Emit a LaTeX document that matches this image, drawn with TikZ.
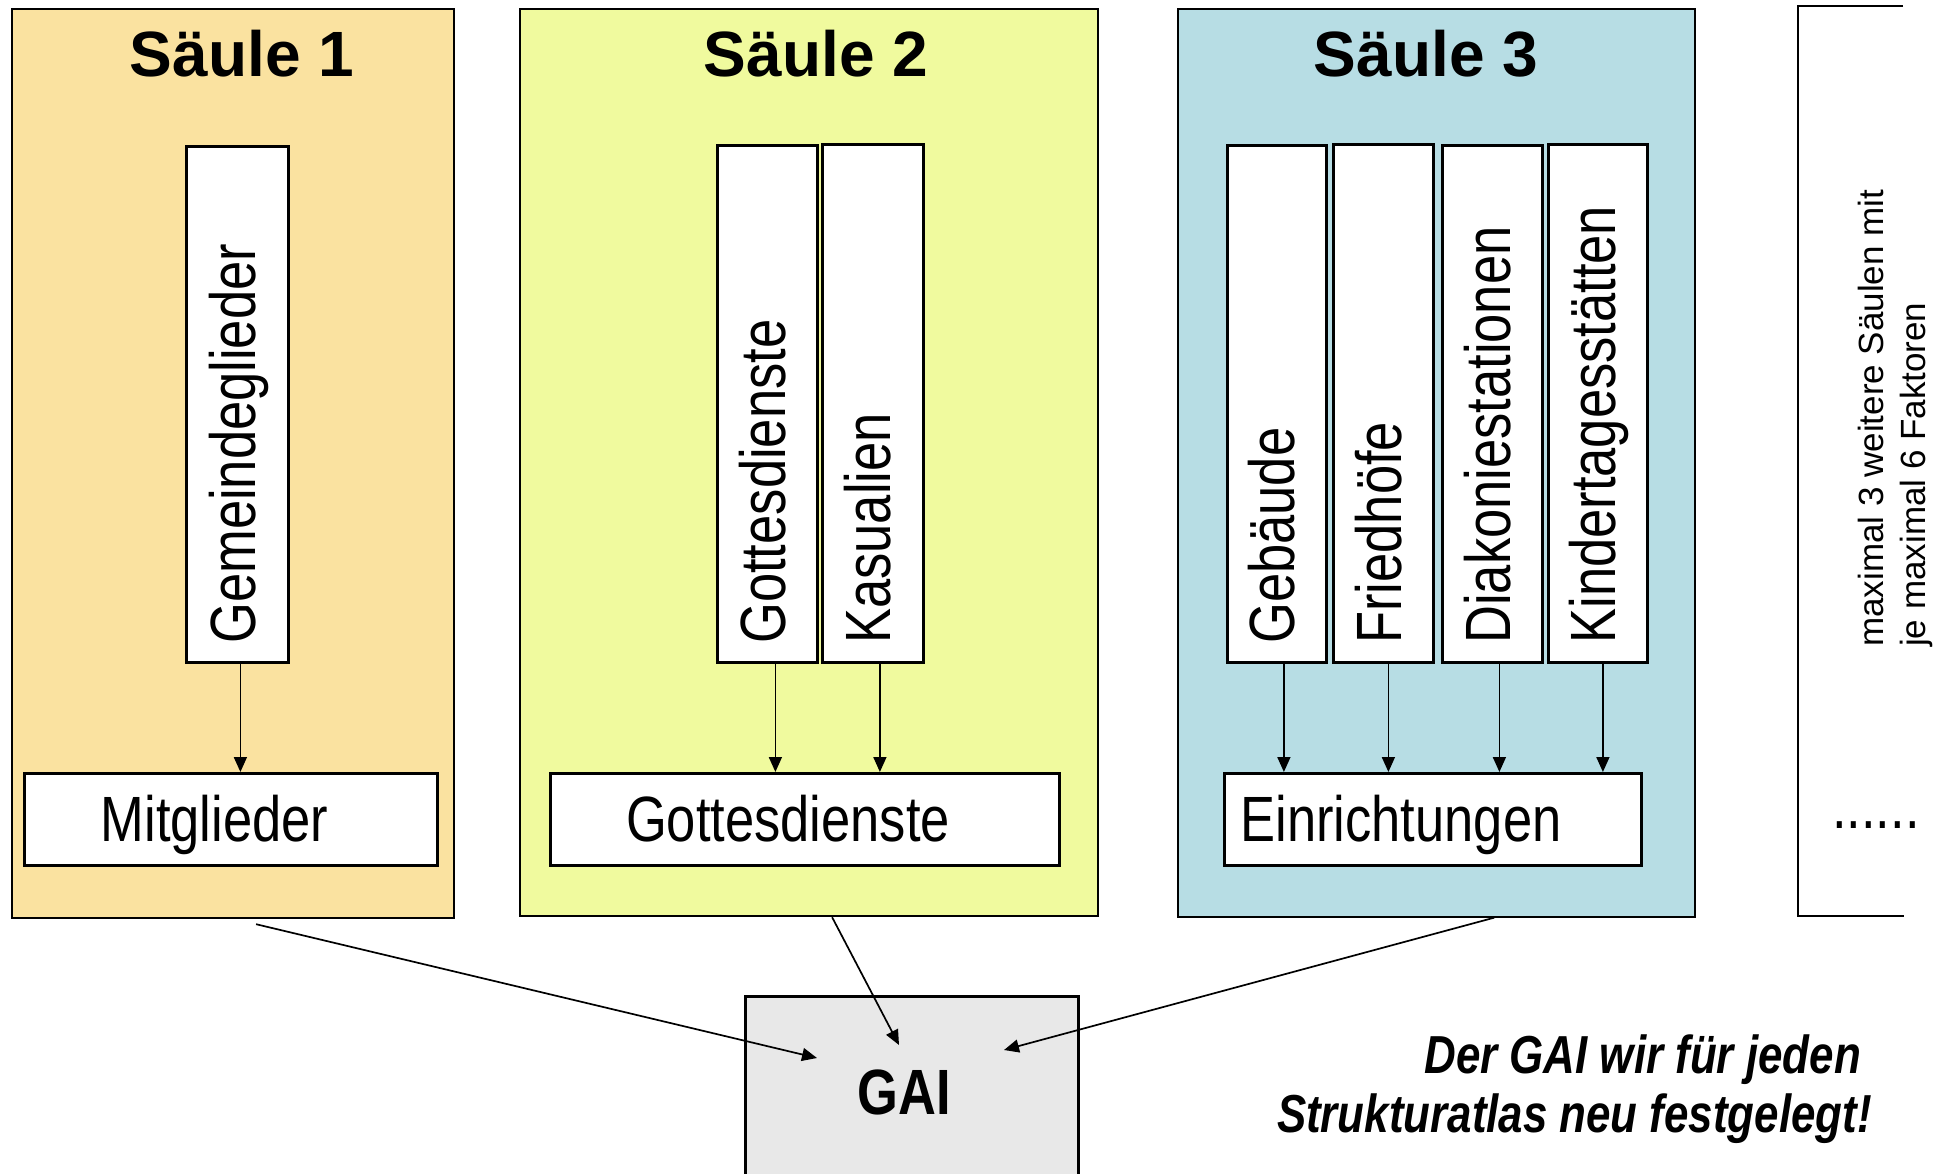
\documentclass[tikz,border=0pt]{standalone}
\usepackage{fontspec}
\setmainfont{Liberation Sans}
\newfontfamily\narrowfont[FakeStretch=0.82]{Liberation Sans}
\usetikzlibrary{arrows.meta,calc}
\definecolor{sone}{RGB}{250,226,160}
\definecolor{stwo}{RGB}{240,250,158}
\definecolor{sthree}{RGB}{183,221,228}
\definecolor{gaigray}{RGB}{232,232,232}
\begin{document}
\begin{tikzpicture}[x=1pt,y=-1pt,
  saeule/.style={draw=black, line width=2.2pt, inner sep=0pt, anchor=north west},
  fbox/.style={draw=black, fill=white, line width=2.8pt, inner sep=0pt, anchor=north west},
  title/.style={font=\fontsize{64}{70}\selectfont\bfseries, anchor=base, inner sep=0pt},
  vlabel/.style={font=\narrowfont\fontsize{64}{70}\selectfont, rotate=90, anchor=base west, inner sep=0pt},
  hlabel/.style={font=\narrowfont\fontsize{64}{70}\selectfont, anchor=base, inner sep=0pt},
  note/.style={font=\narrowfont\bfseries\itshape\fontsize{53.5}{60}\selectfont, anchor=base east, inner sep=0pt},
  side/.style={font=\fontsize{35}{42}\selectfont, rotate=90, anchor=base west, inner sep=0pt},
  arr/.style={line width=1.7pt, -{Triangle[length=15pt,width=13pt]}},
]
\fill[white] (0,0) rectangle (1944,1174);
\useasboundingbox (0,0) rectangle (1944,1174);

% Saeulen
\node[saeule, fill=sone, minimum width=442pt, minimum height=909pt] (S1) at (11,8) {};
\node[saeule, fill=stwo, minimum width=578pt, minimum height=907pt] (S2) at (519,8) {};
\node[saeule, fill=sthree, minimum width=517pt, minimum height=907.5pt] (S3) at (1177,8) {};

% right open box
\coordinate (r1) at (1903,6);
\coordinate (r2) at (1798,6);
\coordinate (r3) at (1798,915.5);
\coordinate (r4) at (1904,915.5);
\draw[line width=2pt] (r1) -- (r2) -- (r3) -- (r4);

% titles
\node[title] (T1) at (242,77) {Säule 1};
\node[title] (T2) at (816,77) {Säule 2};
\node[title] (T3) at (1426,77) {Säule 3};

% vertical factor boxes
\node[fbox, minimum width=102pt, minimum height=516pt] (gem) at (185,145) {};
\node[fbox, minimum width=100pt, minimum height=517pt] (got) at (716,144) {};
\node[fbox, minimum width=101pt, minimum height=518pt] (kas) at (821,143) {};
\node[fbox, minimum width=99pt, minimum height=517pt] (geb) at (1226,144) {};
\node[fbox, minimum width=100pt, minimum height=518pt] (fri) at (1332,143) {};
\node[fbox, minimum width=100pt, minimum height=517pt] (dia) at (1441,144) {};
\node[fbox, minimum width=99pt, minimum height=518pt] (kin) at (1547,143) {};

\node[vlabel] (lgem) at ($(gem.south)+(18,-20)$) {Gemeindeglieder};
\node[vlabel] (lgot) at ($(got.south)+(18,-20)$) {Gottesdienste};
\node[vlabel] (lkas) at ($(kas.south)+(18,-20)$) {Kasualien};
\node[vlabel] (lgeb) at ($(geb.south)+(18,-20)$) {Gebäude};
\node[vlabel] (lfri) at ($(fri.south)+(18,-20)$) {Friedhöfe};
\node[vlabel] (ldia) at ($(dia.south)+(18,-20)$) {Diakoniestationen};
\node[vlabel] (lkin) at ($(kin.south)+(18,-20)$) {Kindertagesstätten};

% horizontal boxes
\node[fbox, minimum width=413pt, minimum height=92pt] (mit) at (23,772) {};
\node[fbox, minimum width=509pt, minimum height=92pt] (gd) at (549,772) {};
\node[fbox, minimum width=417pt, minimum height=92pt] (ein) at (1223,772) {};
\node[hlabel] (lmit) at (214.5,841) {Mitglieder};
\node[hlabel] (lgd) at (788,841) {Gottesdienste};
\node[hlabel] (lein) at (1401,841) {Einrichtungen};

% vertical arrows
\draw[arr] ([xshift=3pt]gem.south) -- ([xshift=3pt]gem.south |- mit.north);
\draw[arr] ([xshift=8pt]got.south) -- ([xshift=8pt]got.south |- gd.north);
\draw[arr] ([xshift=7pt]kas.south) -- ([xshift=7pt]kas.south |- gd.north);
\draw[arr] ([xshift=7pt]geb.south) -- ([xshift=7pt]geb.south |- ein.north);
\draw[arr] ([xshift=5pt]fri.south) -- ([xshift=5pt]fri.south |- ein.north);
\draw[arr] ([xshift=7pt]dia.south) -- ([xshift=7pt]dia.south |- ein.north);
\draw[arr] ([xshift=5pt]kin.south) -- ([xshift=5pt]kin.south |- ein.north);

% GAI box
\node[draw=black, line width=2.8pt, fill=gaigray, minimum width=333pt, minimum height=200pt,
      anchor=north west, inner sep=0pt] (gai) at (744,995) {};
\node[font=\narrowfont\bfseries\fontsize{64}{70}\selectfont, anchor=base, inner sep=0pt] (gaitext) at (904.5,1114) {GAI};

\coordinate (e1) at (817,1058);
\coordinate (e2) at (899,1045);
\coordinate (e3) at (1004,1050);
\draw[arr] ($(S1.south)+(23,5)$) -- (e1);
\draw[arr] ($(S2.south)+(23,0)$) -- (e2);
\draw[arr] ($(S3.south)+(57.5,0)$) -- (e3);

% notes
\node[note] (n1) at (1861,1073) {Der GAI wir für jeden};
\node[note] (n2) at (1872,1132) {Strukturatlas neu festgelegt!};

\node[side] (s1) at (1883,647) {maximal 3 weitere Säulen mit};
\node[side] (s2) at (1925.5,647) {je maximal 6 Faktoren};
\node[hlabel, anchor=base west] (dots) at (1832,828) {......};
\end{tikzpicture}
\end{document}
